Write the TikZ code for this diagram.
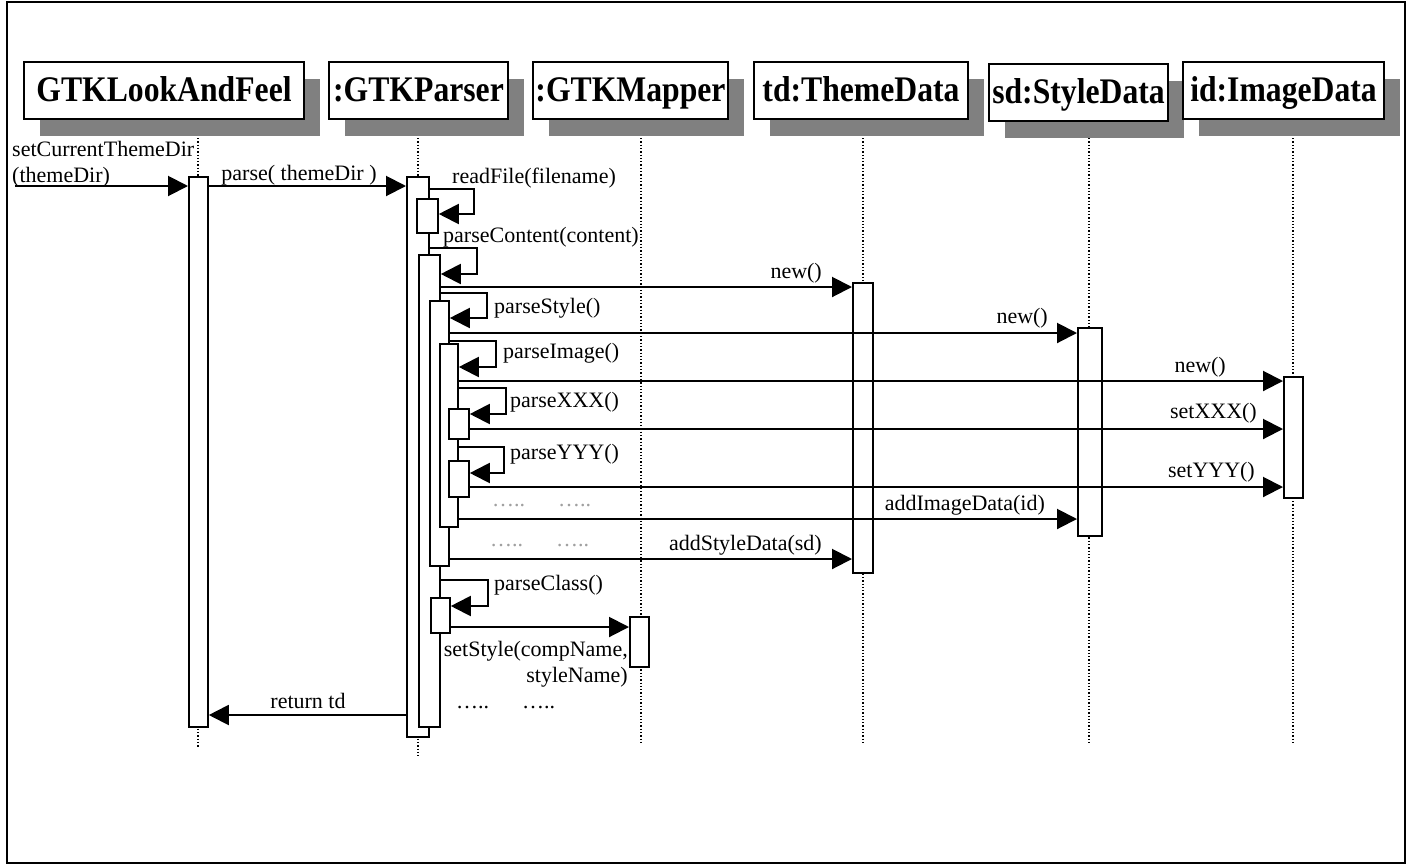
\documentclass[tikz,border=0pt]{standalone}
\usepackage{fontspec}
\setmainfont{Liberation Serif}
\newfontfamily\hdrfont[FakeStretch=0.88]{Liberation Serif}
\usetikzlibrary{arrows.meta,calc,shadows}
\definecolor{shgray}{RGB}{128,128,128}
\definecolor{dotgray}{RGB}{160,160,160}
\begin{document}
\begin{tikzpicture}[x=1pt,y=-1pt,
  hdr/.style={draw, line width=2pt, fill=white, inner sep=0pt, anchor=north west,
    text height=27pt, text depth=5pt,
    font=\hdrfont\bfseries\fontsize{36}{40}\selectfont,
    drop shadow={shadow xshift=16pt, shadow yshift=-17pt, fill=shgray, opacity=1}},
  life/.style={dotted, line width=1.3pt},
  act/.style={draw, line width=1.8pt, fill=white, inner sep=0pt, anchor=north west},
  msg/.style={line width=2pt, -{Triangle[length=20pt,width=20pt]}},
  lbl/.style={inner sep=0pt, font=\fontsize{22}{26}\selectfont},
  dots/.style={inner sep=0pt, font=\fontsize{22}{26}\selectfont},
]
\useasboundingbox (0,0) rectangle (1412,865);
% frame
\coordinate (fnw) at (7,2);
\coordinate (fse) at (1405,863);
\draw[line width=2pt] (fnw) rectangle (fse);

% headers
\node[hdr, minimum width=280pt, minimum height=57pt] (h1) at (23,61) {GTKLookAndFeel};
\node[hdr, minimum width=179pt, minimum height=57pt] (h2) at (328,61) {:GTKParser};
\node[hdr, minimum width=195pt, minimum height=57pt] (h3) at (532,61) {:GTKMapper};
\node[hdr, minimum width=214pt, minimum height=57pt] (h4) at (753,61) {td:ThemeData};
\node[hdr, minimum width=179pt, minimum height=57pt] (h5) at (988,63) {sd:StyleData};
\node[hdr, minimum width=201pt, minimum height=57pt] (h6) at (1182,61) {id:ImageData};

% lifelines
\coordinate (l1t) at (198,138);  \coordinate (l1b) at (198,747);
\coordinate (l2t) at (418,138);  \coordinate (l2b) at (418,757);
\coordinate (l3t) at (641,138);  \coordinate (l3b) at (641,745);
\coordinate (l4t) at (863,138);  \coordinate (l4b) at (863,745);
\coordinate (l5t) at (1089,138); \coordinate (l5b) at (1089,745);
\coordinate (l6t) at (1293,138); \coordinate (l6b) at (1293,745);
\foreach \i in {1,...,6} {\draw[life] (l\i t) -- (l\i b);}

% activation boxes
\node[act, minimum width=19pt, minimum height=550pt] (A1) at (188,176) {};
\node[act, minimum width=22pt, minimum height=560pt] (A2) at (406,176) {};
\node[act, minimum width=21pt, minimum height=34pt]  (A3) at (416,198) {};
\node[act, minimum width=21pt, minimum height=472pt] (A4) at (418,254) {};
\node[act, minimum width=19pt, minimum height=265pt] (A5) at (429,300) {};
\node[act, minimum width=18pt, minimum height=183pt] (A6) at (439,343) {};
\node[act, minimum width=20pt, minimum height=30pt]  (A7) at (448,408) {};
\node[act, minimum width=20pt, minimum height=36pt]  (A8) at (448,460) {};
\node[act, minimum width=19pt, minimum height=35pt]  (A9) at (430,597) {};
\node[act, minimum width=19pt, minimum height=50pt]  (A10) at (629,616) {};
\node[act, minimum width=20pt, minimum height=290pt] (A11) at (852,282) {};
\node[act, minimum width=24pt, minimum height=208pt] (A12) at (1077,327) {};
\node[act, minimum width=19pt, minimum height=121pt] (A13) at (1283,376) {};

% incoming call
\coordinate (start) at (15,186);
\draw[msg] (start) -- (A1.west |- 0,186);
\node[lbl, align=left, anchor=north west] (tcall) at (12,141) {setCurrentThemeDir\\(themeDir)};

% parse
\draw[msg] (A1.east |- 0,186) -- (A2.west |- 0,186);
\node[lbl] (tparse) at (299,175) {parse( themeDir )};

% self calls
\draw[msg] (A2.east |- 0,189) -| (474,214) -- (A3.east |- 0,214);
\node[lbl, anchor=west] (trf) at (452,178) {readFile(filename)};

\draw[msg] (A2.east |- 0,248) -| (477,274) -- (A4.east |- 0,274);
\node[lbl, anchor=west] (tpc) at (443,237) {parseContent(content)};

\draw[msg] (A4.east |- 0,293) -| (487,318) -- (A5.east |- 0,318);
\node[lbl, anchor=west] (tps) at (494,308) {parseStyle()};

\draw[msg] (A5.east |- 0,341) -| (496,367) -- (A6.east |- 0,367);
\node[lbl, anchor=west] (tpi) at (503,353) {parseImage()};

\draw[msg] (A6.east |- 0,388) -| (506,414) -- (A7.east |- 0,414);
\node[lbl, anchor=west] (tpx) at (510,402) {parseXXX()};

\draw[msg] (A6.east |- 0,447) -| (504,473) -- (A8.east |- 0,473);
\node[lbl, anchor=west] (tpy) at (510,454) {parseYYY()};

\draw[msg] (A4.east |- 0,580) -| (488,606) -- (A9.east |- 0,606);
\node[lbl, anchor=west] (tpcl) at (494,585) {parseClass()};

% calls to other objects
\draw[msg] (A4.east |- 0,287) -- (A11.west |- 0,287);
\node[lbl, anchor=east] (tn1) at (822,273) {new()};

\draw[msg] (A5.east |- 0,333) -- (A12.west |- 0,333);
\node[lbl, anchor=east] (tn2) at (1048,318) {new()};

\draw[msg] (A6.east |- 0,381) -- (A13.west |- 0,381);
\node[lbl, anchor=east] (tn3) at (1226,367) {new()};

\draw[msg] (A7.east |- 0,429) -- (A13.west |- 0,429);
\node[lbl, anchor=east] (tsx) at (1257,413) {setXXX()};

\draw[msg] (A8.east |- 0,487) -- (A13.west |- 0,487);
\node[lbl, anchor=east] (tsy) at (1255,472) {setYYY()};

\draw[msg] (A6.east |- 0,519) -- (A12.west |- 0,519);
\node[lbl, anchor=east] (tai) at (1045,505) {addImageData(id)};

\draw[msg] (A5.east |- 0,559) -- (A11.west |- 0,559);
\node[lbl, anchor=east] (tas) at (822,545) {addStyleData(sd)};

\draw[msg] (A9.east |- 0,627) -- (A10.west |- 0,627);
\node[lbl, align=right, anchor=north east] (tss) at (628,641) {setStyle(compName,\\styleName)};

\draw[msg] (A2.west |- 0,715) -- (A1.east |- 0,715);
\node[lbl] (tret) at (308,701) {return td};

% ellipses
\node[dots, text=dotgray, anchor=west] (d1a) at (492,506) {…..};
\node[dots, text=dotgray, anchor=west] (d1b) at (558,506) {…..};
\node[dots, text=dotgray, anchor=west] (d2a) at (490,546) {…..};
\node[dots, text=dotgray, anchor=west] (d2b) at (556,546) {…..};
\node[dots, anchor=west] (d3a) at (456,707) {…..};
\node[dots, anchor=west] (d3b) at (522,707) {…..};
\end{tikzpicture}
\end{document}
